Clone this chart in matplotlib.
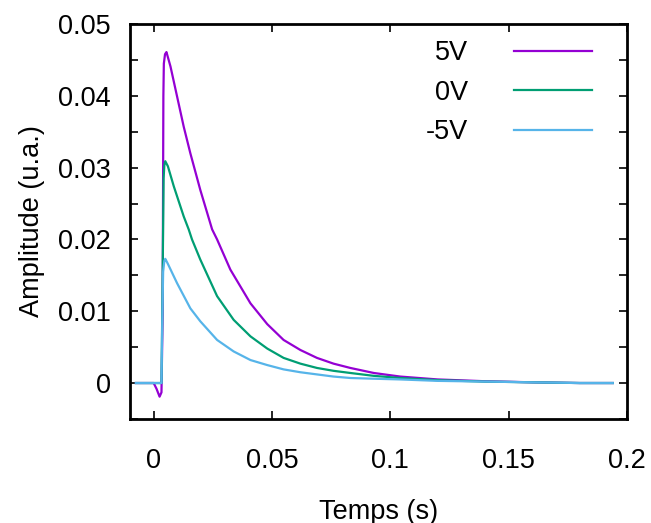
import matplotlib
matplotlib.use("Agg")
import matplotlib.pyplot as plt
from matplotlib.ticker import MultipleLocator

# values (time in s, amplitude in u.a.)
t_5v = [-0.0075, 0.0, 0.0012, 0.0025, 0.0033, 0.0038, 0.0041, 0.0043, 0.0048,
        0.0054, 0.0071, 0.0099, 0.0127, 0.0155, 0.0197, 0.0247, 0.0268, 0.0324,
        0.0409, 0.0480, 0.0549, 0.0620, 0.0690, 0.0760, 0.0831, 0.0930, 0.1042,
        0.1200, 0.1400, 0.1600, 0.1800, 0.1940]
a_5v = [0.0, 0.0, -0.0008, -0.0019, -0.0013, 0.0100, 0.0400, 0.0445, 0.0458,
        0.0461, 0.0441, 0.0399, 0.0357, 0.0320, 0.0269, 0.0214, 0.0200, 0.0158,
        0.0111, 0.0082, 0.0060, 0.0046, 0.0035, 0.0027, 0.0021, 0.0014, 0.0009,
        0.0005, 0.00025, 0.0001, 0.0, 0.0]

t_0v = [-0.0075, 0.0033, 0.0037, 0.0042, 0.0045, 0.0049, 0.0060, 0.0085,
        0.0127, 0.0148, 0.0162, 0.0197, 0.0268, 0.0338, 0.0409, 0.0480, 0.0549,
        0.0620, 0.0690, 0.0760, 0.0831, 0.0930, 0.1042, 0.1200, 0.1400, 0.1600,
        0.1800, 0.1940]
a_0v = [0.0, 0.0, 0.0120, 0.0285, 0.0303, 0.0309, 0.0302, 0.0274, 0.0232,
        0.0214, 0.0200, 0.0172, 0.0121, 0.0088, 0.0065, 0.0048, 0.0035, 0.0027,
        0.0021, 0.0017, 0.0014, 0.0010, 0.0007, 0.0004, 0.0002, 0.0001, 0.0, 0.0]

t_m5v = [-0.0075, 0.0033, 0.0036, 0.0040, 0.0045, 0.0049, 0.0060, 0.0099,
         0.0155, 0.0197, 0.0268, 0.0338, 0.0409, 0.0480, 0.0549, 0.0620, 0.0690,
         0.0760, 0.0831, 0.0930, 0.1042, 0.1200, 0.1400, 0.1600, 0.1800, 0.1940]
a_m5v = [0.0, 0.0, 0.0080, 0.0155, 0.0170, 0.0173, 0.0166, 0.0139, 0.0104,
         0.0086, 0.0060, 0.0044, 0.0032, 0.0025, 0.0019, 0.0015, 0.0012, 0.0009,
         0.0007, 0.0006, 0.0005, 0.0003, 0.0002, 0.0001, 0.0, 0.0]

labels = ["5V", "0V", "-5V"]
colors = ["#9400d3", "#009e73", "#56b4e9"]

plt.rcParams['font.family'] = ['Liberation Sans', 'DejaVu Sans']
plt.rcParams['font.size'] = 19.5

fig = plt.figure(figsize=(6.51, 5.23), dpi=100)
ax = fig.add_axes([0.1997, 0.199, 0.7634, 0.755])

for t, a, lab, c in zip([t_5v, t_0v, t_m5v], [a_5v, a_0v, a_m5v], labels, colors):
    ax.plot(t, a, color=c, lw=1.6, label=lab)

ax.set_xlim(-0.01, 0.2)
ax.set_ylim(-0.005, 0.05)
ax.set_xticks([0, 0.05, 0.1, 0.15, 0.2])
ax.set_xticklabels(["0", "0.05", "0.1", "0.15", "0.2"])
ax.set_yticks([0, 0.01, 0.02, 0.03, 0.04, 0.05])
ax.set_yticklabels(["0", "0.01", "0.02", "0.03", "0.04", "0.05"])
ax.yaxis.set_minor_locator(MultipleLocator(0.005))
ax.tick_params(which='both', direction='in', top=True, right=True,
               length=6, width=1.2)
ax.tick_params(axis='x', pad=21)
ax.tick_params(axis='y', pad=14)
for s in ax.spines.values():
    s.set_linewidth(2)

ax.set_xlabel("Temps (s)", labelpad=18)
ax.set_ylabel("Amplitude (u.a.)", labelpad=9)

ax.legend(loc='upper right', frameon=False, markerfirst=False,
          handlelength=2.9, handletextpad=1.7, labelspacing=0.5,
          borderaxespad=0.2, bbox_to_anchor=(0.963, 1.0))

fig.savefig("out.png", dpi=100)
